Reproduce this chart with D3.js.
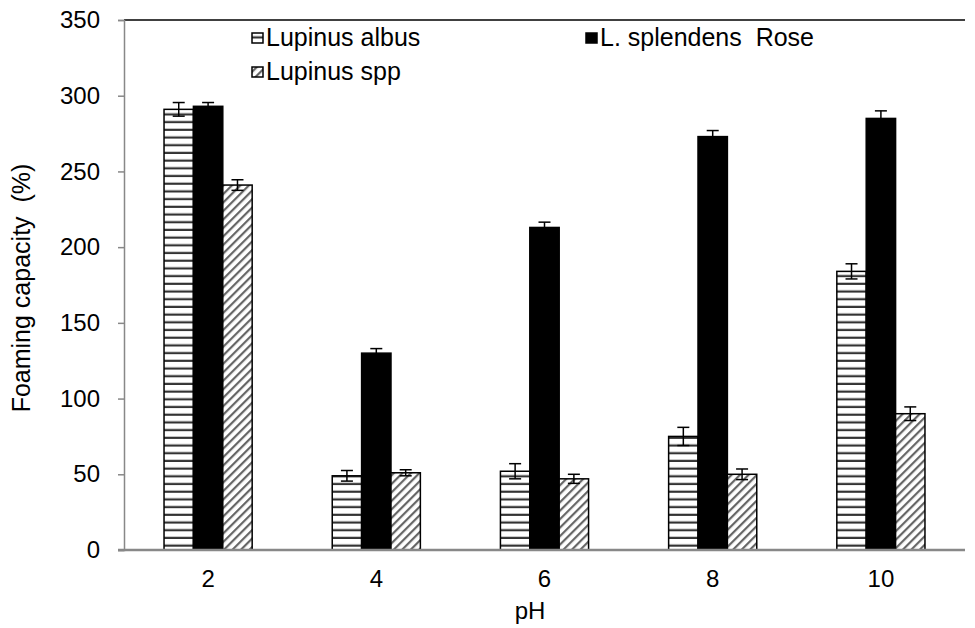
<!DOCTYPE html>
<html><head><meta charset="utf-8">
<script src="https://cdn.jsdelivr.net/npm/d3@7"></script>
<style>body{margin:0;background:#fff}svg{display:block}text{font-family:"Liberation Sans",Arial,sans-serif;fill:#000;white-space:pre}</style>
</head><body><svg id="c" width="975" height="628"></svg>
<script>
const categories = ["2","4","6","8","10"];
const seriesNames = ["Lupinus albus","L. splendens  Rose","Lupinus spp"];
const albus = [291, 49, 52, 75, 184];
const albusErr = [4.5, 3.5, 5, 6, 5];
const splendens = [293, 130, 213, 273, 285];
const splendensErr = [2.5, 3, 3.5, 4, 5];
const spp = [241, 51, 47, 50, 90];
const sppErr = [3.5, 2, 3, 3.5, 4.5];
const yTicks = [0,50,100,150,200,250,300,350];

const series = [
  {name: seriesNames[0], values: albus, err: albusErr, fill: "url(#hstripe)"},
  {name: seriesNames[1], values: splendens, err: splendensErr, fill: "#000"},
  {name: seriesNames[2], values: spp, err: sppErr, fill: "url(#diag)"}
];

const FS = 24;
const svg = d3.select("#c");
const m = {l:124, r:965, t:20, b:550};
const defs = svg.append("defs");
const hs = defs.append("pattern").attr("id","hstripe").attr("patternUnits","userSpaceOnUse").attr("width",8).attr("height",7.7);
hs.append("rect").attr("width",8).attr("height",7.7).attr("fill","#fff");
hs.append("rect").attr("y",5.5).attr("width",8).attr("height",2.2).attr("fill","#333");
const dg = defs.append("pattern").attr("id","diag").attr("patternUnits","userSpaceOnUse").attr("width",6).attr("height",6).attr("patternTransform","rotate(45)");
dg.append("rect").attr("width",6).attr("height",6).attr("fill","#fff");
dg.append("rect").attr("x",0).attr("width",2.2).attr("height",6).attr("fill","#666");

const x0 = d3.scaleBand().domain(categories).range([m.l, m.r]).paddingInner(0.476).paddingOuter(0.238);
const x1 = d3.scaleBand().domain(seriesNames).range([0, x0.bandwidth()]);
const y = d3.scaleLinear().domain([0,350]).range([m.b, m.t]);

// top border
svg.append("line").attr("x1",m.l).attr("x2",m.r).attr("y1",m.t).attr("y2",m.t).attr("stroke","#000").attr("stroke-width",1.5);

// bars
series.forEach(s => {
  const g = svg.append("g");
  g.selectAll("rect").data(categories).join("rect")
    .attr("x", (c) => x0(c) + x1(s.name))
    .attr("y", (c,i) => y(s.values[i]))
    .attr("width", x1.bandwidth())
    .attr("height", (c,i) => y(0) - y(s.values[i]))
    .attr("fill", s.fill).attr("stroke","#000").attr("stroke-width",1.5);
});
// error bars
series.forEach(s => {
  const g = svg.append("g").attr("stroke","#000").attr("stroke-width",1.5);
  categories.forEach((c,i) => {
    const cx = x0(c) + x1(s.name) + x1.bandwidth()/2;
    const y1 = y(s.values[i]+s.err[i]), y2 = y(s.values[i]-s.err[i]);
    g.append("line").attr("x1",cx).attr("x2",cx).attr("y1",y1).attr("y2",y2);
    g.append("line").attr("x1",cx-6).attr("x2",cx+6).attr("y1",y1).attr("y2",y1);
    g.append("line").attr("x1",cx-6).attr("x2",cx+6).attr("y1",y2).attr("y2",y2);
  });
});

// y axis
const ya = svg.append("g").attr("transform",`translate(${m.l},0)`)
  .call(d3.axisLeft(y).tickValues(yTicks).tickSize(6).tickPadding(10).tickFormat(d3.format("d")));
ya.select(".domain").attr("stroke","#888").attr("stroke-width",1.5);
ya.selectAll(".tick line").attr("stroke","#888").attr("stroke-width",1.5);
ya.selectAll("text").attr("font-size",FS).attr("font-family","Liberation Sans, Arial, sans-serif").attr("dx",-8);

// x axis
const xa = svg.append("g").attr("transform",`translate(0,${m.b})`)
  .call(d3.axisBottom(x0).tickSize(0).tickPadding(20));
xa.select(".domain").attr("d",`M${m.l-6},0H${m.r}`).attr("stroke","#888").attr("stroke-width",2.5);
xa.selectAll("text").attr("font-size",FS).attr("font-family","Liberation Sans, Arial, sans-serif");

// axis titles
svg.append("text").attr("transform","translate(30,288) rotate(-90)").attr("text-anchor","middle").attr("font-size",25).text("Foaming capacity  (%)");
svg.append("text").attr("x",530).attr("y",619).attr("text-anchor","middle").attr("font-size",FS).text("pH");

// legend
const leg = [
  {name: seriesNames[0], fill:"url(#hstripe)", x:252, y:38},
  {name: seriesNames[1], fill:"#000", x:586, y:38},
  {name: seriesNames[2], fill:"url(#diag)", x:252, y:72}
];
leg.forEach(l => {
  svg.append("rect").attr("x",l.x).attr("y",l.y-5).attr("width",11).attr("height",10).attr("fill",l.fill).attr("stroke","#000").attr("stroke-width",1.5);
  svg.append("text").attr("x",l.x+14).attr("y",l.y+8).attr("font-size",25).text(l.name);
});
</script></body></html>
